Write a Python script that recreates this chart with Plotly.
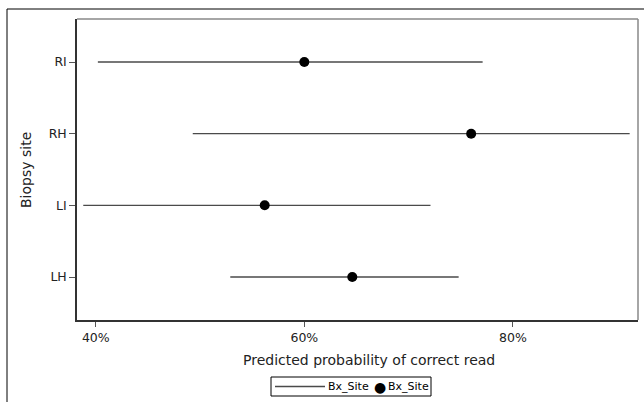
import plotly.graph_objects as go

sites = ["RI", "RH", "LI", "LH"]
estimate = [60.0, 76.0, 56.2, 64.6]
lower = [40.2, 49.3, 38.8, 52.9]
upper = [77.1, 91.2, 72.1, 74.8]
x_ticks = [40, 60, 80]
legend_label = "Bx_Site"

W, H = 644, 402
L, R, T, B = 77, 6, 19, 82
pw, ph = W - L - R, H - T - B

def px(x):
    return (x - L) / pw

def py(y):
    return (H - B - y) / ph

FONT = "DejaVu Sans"
LINE_COLOR = "#4a4a4a"

lx, ly = [], []
for s, lo, hi in zip(sites, lower, upper):
    lx += [lo, hi, None]
    ly += [s, s, None]

fig = go.Figure()
fig.add_trace(go.Scatter(x=lx, y=ly, mode="lines", name=legend_label,
                         line=dict(color=LINE_COLOR, width=1.4), showlegend=False))
fig.add_trace(go.Scatter(x=estimate, y=sites, mode="markers", name=legend_label,
                         marker=dict(color="black", size=10), showlegend=False))

leg_top, leg_bot = 377, 396
leg_mid = (leg_top + leg_bot) / 2

fig.update_layout(
    width=W, height=H,
    margin=dict(l=L, r=R, t=T, b=B),
    paper_bgcolor="white", plot_bgcolor="white",
    font=dict(family=FONT, size=12, color="#222"),
    showlegend=False,
    xaxis=dict(range=[38.2, 92.0], tickvals=x_ticks,
               ticktext=[f"{v}%" for v in x_ticks],
               showgrid=False, zeroline=False,
               ticks="outside", ticklen=5, tickcolor="#555",
               showline=True, linecolor="#333", linewidth=1.5,
               tickfont=dict(family=FONT, size=12.5, color="#222")),
    yaxis=dict(type="category", categoryorder="array",
               categoryarray=["LH", "LI", "RH", "RI"],
               range=[-0.6, 3.6],
               showgrid=False, zeroline=False,
               ticks="outside", ticklen=6, tickcolor="#555",
               showline=True, linecolor="#333", linewidth=1.5,
               tickfont=dict(family=FONT, size=12.5, color="#222")),
    shapes=[
        dict(type="line", xref="paper", yref="paper", x0=0, x1=1, y0=1, y1=1,
             line=dict(color="#888", width=1.5)),
        dict(type="line", xref="paper", yref="paper", x0=1, x1=1, y0=0, y1=1,
             line=dict(color="#888", width=1.5)),
        dict(type="line", xref="paper", yref="paper", x0=px(7), x1=px(646),
             y0=py(9), y1=py(9), line=dict(color="black", width=1)),
        dict(type="line", xref="paper", yref="paper", x0=px(7), x1=px(7),
             y0=py(9), y1=py(404), line=dict(color="black", width=1)),
        # legend box
        dict(type="rect", xref="paper", yref="paper", x0=px(271), x1=px(431),
             y0=py(leg_bot), y1=py(leg_top), line=dict(color="black", width=1)),
        dict(type="line", xref="paper", yref="paper", x0=px(275), x1=px(325),
             y0=py(leg_mid), y1=py(leg_mid), line=dict(color=LINE_COLOR, width=1.4)),
    ],
    annotations=[
        dict(text="Predicted probability of correct read", xref="paper", yref="paper",
             x=px(369), y=py(360), xanchor="center", yanchor="middle",
             showarrow=False, font=dict(family=FONT, size=14, color="#222")),
        dict(text="Biopsy site", xref="paper", yref="paper",
             x=px(26), y=py(170), xanchor="center", yanchor="middle",
             textangle=-90, showarrow=False,
             font=dict(family=FONT, size=14, color="#222")),
        dict(text=legend_label, xref="paper", yref="paper",
             x=px(326), y=py(leg_mid), xanchor="left", yanchor="middle",
             showarrow=False, font=dict(family=FONT, size=11, color="black")),
        dict(text="●", xref="paper", yref="paper",
             x=px(380), y=py(leg_mid), xanchor="center", yanchor="middle",
             showarrow=False, font=dict(family=FONT, size=14, color="black")),
        dict(text=legend_label, xref="paper", yref="paper",
             x=px(386), y=py(leg_mid), xanchor="left", yanchor="middle",
             showarrow=False, font=dict(family=FONT, size=11, color="black")),
    ],
)

fig.write_html("out.html", config={"displayModeBar": False},
               post_script="document.body.style.margin='0px';")
